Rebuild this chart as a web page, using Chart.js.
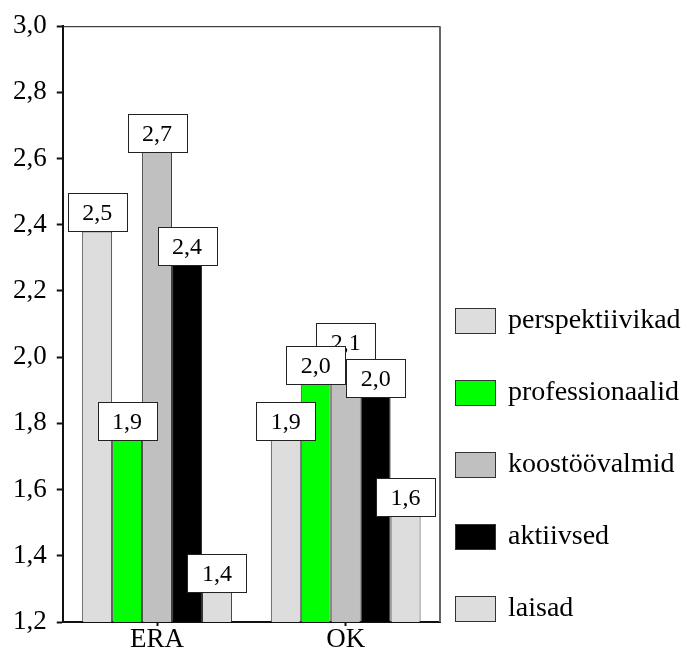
<!DOCTYPE html>
<html lang="et">
<head>
<meta charset="UTF-8">
<title>ERA / OK</title>
<script src="https://cdn.jsdelivr.net/npm/chart.js"></script>
<style>
  html, body { margin: 0; padding: 0; background: #fff; }
  #chart { display: block; }
</style>
</head>
<body>
<canvas id="chart" width="693" height="656"></canvas>
<script>
// categories on the x axis
var categories = ['ERA', 'OK'];
// series names (legend)
var seriesNames = ['perspektiivikad', 'professionaalid', 'koostöövalmid', 'aktiivsed', 'laisad'];
// bar heights as drawn in the picture, one array per series: [ERA, OK]
var perspektiivikad = [2.38, 1.75];
var professionaalid = [1.75, 1.92];
var koostoovalmid   = [2.62, 1.99];
var aktiivsed       = [2.28, 1.88];
var laisad          = [1.29, 1.52];
// values printed in the label boxes
var perspektiivikadLabels = ['2,5', '1,9'];
var professionaalidLabels = ['1,9', '2,0'];
var koostoovalmidLabels   = ['2,7', '2,1'];
var aktiivsedLabels       = ['2,4', '2,0'];
var laisadLabels          = ['1,4', '1,6'];
// y axis ticks
var yMin = 1.2, yMax = 3.0, yStep = 0.2;

var seriesValues = [perspektiivikad, professionaalid, koostoovalmid, aktiivsed, laisad];
var seriesLabels = [perspektiivikadLabels, professionaalidLabels, koostoovalmidLabels, aktiivsedLabels, laisadLabels];
var seriesColors = ['#dddddd', '#00ff00', '#c0c0c0', '#000000', '#dddddd'];

var serif = '"Liberation Serif", "Times New Roman", serif';

// boxes with the value over each bar
var valueBoxes = {
  id: 'valueBoxes',
  afterDatasetsDraw: function (chart) {
    var ctx = chart.ctx;
    ctx.save();
    ctx.font = '24px ' + serif;
    ctx.textAlign = 'center';
    ctx.textBaseline = 'middle';
    for (var c = 0; c < categories.length; c++) {
      var items = [];
      chart.data.datasets.forEach(function (ds, i) {
        var bar = chart.getDatasetMeta(i).data[c];
        items.push({ x: bar.x, y: bar.y, text: seriesLabels[i][c] });
      });
      // higher bars first so the lower boxes sit on top
      items.sort(function (a, b) { return a.y - b.y; });
      items.forEach(function (it) {
        var w = 59, h = 38;
        var left = Math.round(it.x - w / 2) + 0.5, top = Math.round(it.y - h) + 0.5;
        ctx.fillStyle = '#fff';
        ctx.fillRect(left, top, w, h);
        ctx.strokeStyle = '#222';
        ctx.lineWidth = 1;
        ctx.strokeRect(left, top, w, h);
        ctx.fillStyle = '#000';
        ctx.fillText(it.text, it.x, top + h / 2 + 1);
      });
    }
    ctx.restore();
  }
};

// top and right edges of the plot frame
var frame = {
  id: 'frame',
  afterDraw: function (chart) {
    var a = chart.chartArea, ctx = chart.ctx;
    ctx.save();
    ctx.strokeStyle = '#111';
    ctx.lineWidth = 1;
    ctx.beginPath();
    ctx.moveTo(a.left, a.top + 0.5);
    ctx.lineTo(a.right, a.top + 0.5);
    ctx.stroke();
    ctx.strokeStyle = '#666';
    ctx.lineWidth = 2;
    ctx.beginPath();
    ctx.moveTo(a.right, a.top);
    ctx.lineTo(a.right, a.bottom);
    ctx.stroke();
    ctx.restore();
  }
};

// legend on the right
var sideLegend = {
  id: 'sideLegend',
  afterDraw: function (chart) {
    var a = chart.chartArea, ctx = chart.ctx;
    ctx.save();
    ctx.font = '28px ' + serif;
    ctx.textBaseline = 'middle';
    ctx.textAlign = 'left';
    chart.data.datasets.forEach(function (ds, i) {
      var cy = 320 + i * 72;
      var bx = a.right + 15.5, by = Math.round(cy - 12.5) + 0.5;
      ctx.fillStyle = ds.backgroundColor;
      ctx.fillRect(bx, by, 40, 25);
      ctx.strokeStyle = '#333';
      ctx.lineWidth = 1;
      ctx.strokeRect(bx, by, 40, 25);
      ctx.fillStyle = '#000';
      ctx.fillText(ds.label, a.right + 68, cy + 1);
    });
    ctx.restore();
  }
};

var datasets = seriesNames.map(function (name, i) {
  return {
    label: name,
    data: seriesValues[i],
    backgroundColor: seriesColors[i],
    borderColor: '#333',
    borderWidth: 1,
    categoryPercentage: 0.794,
    barPercentage: 1.0
  };
});

new Chart(document.getElementById('chart').getContext('2d'), {
  type: 'bar',
  data: { labels: categories, datasets: datasets },
  plugins: [valueBoxes, frame, sideLegend],
  options: {
    responsive: false,
    animation: false,
    layout: { padding: { left: 3, top: 25, right: 253, bottom: 3 } },
    plugins: {
      legend: { display: false },
      tooltip: { enabled: false }
    },
    scales: {
      x: {
        grid: { display: true, drawOnChartArea: false, offset: false, tickLength: 4, color: '#111', tickWidth: 2 },
        border: { color: '#111', width: 2 },
        ticks: { color: '#000', padding: 0, font: { family: serif, size: 27, lineHeight: 1.0 } }
      },
      y: {
        min: yMin,
        max: yMax,
        grid: { display: true, drawOnChartArea: false, tickLength: 6, color: '#111', tickWidth: 2 },
        border: { color: '#111', width: 2 },
        ticks: {
          stepSize: yStep,
          color: '#000',
          padding: 10,
          font: { family: serif, size: 27 },
          callback: function (v) { return v.toFixed(1).replace('.', ','); }
        }
      }
    }
  }
});
</script>
</body>
</html>
